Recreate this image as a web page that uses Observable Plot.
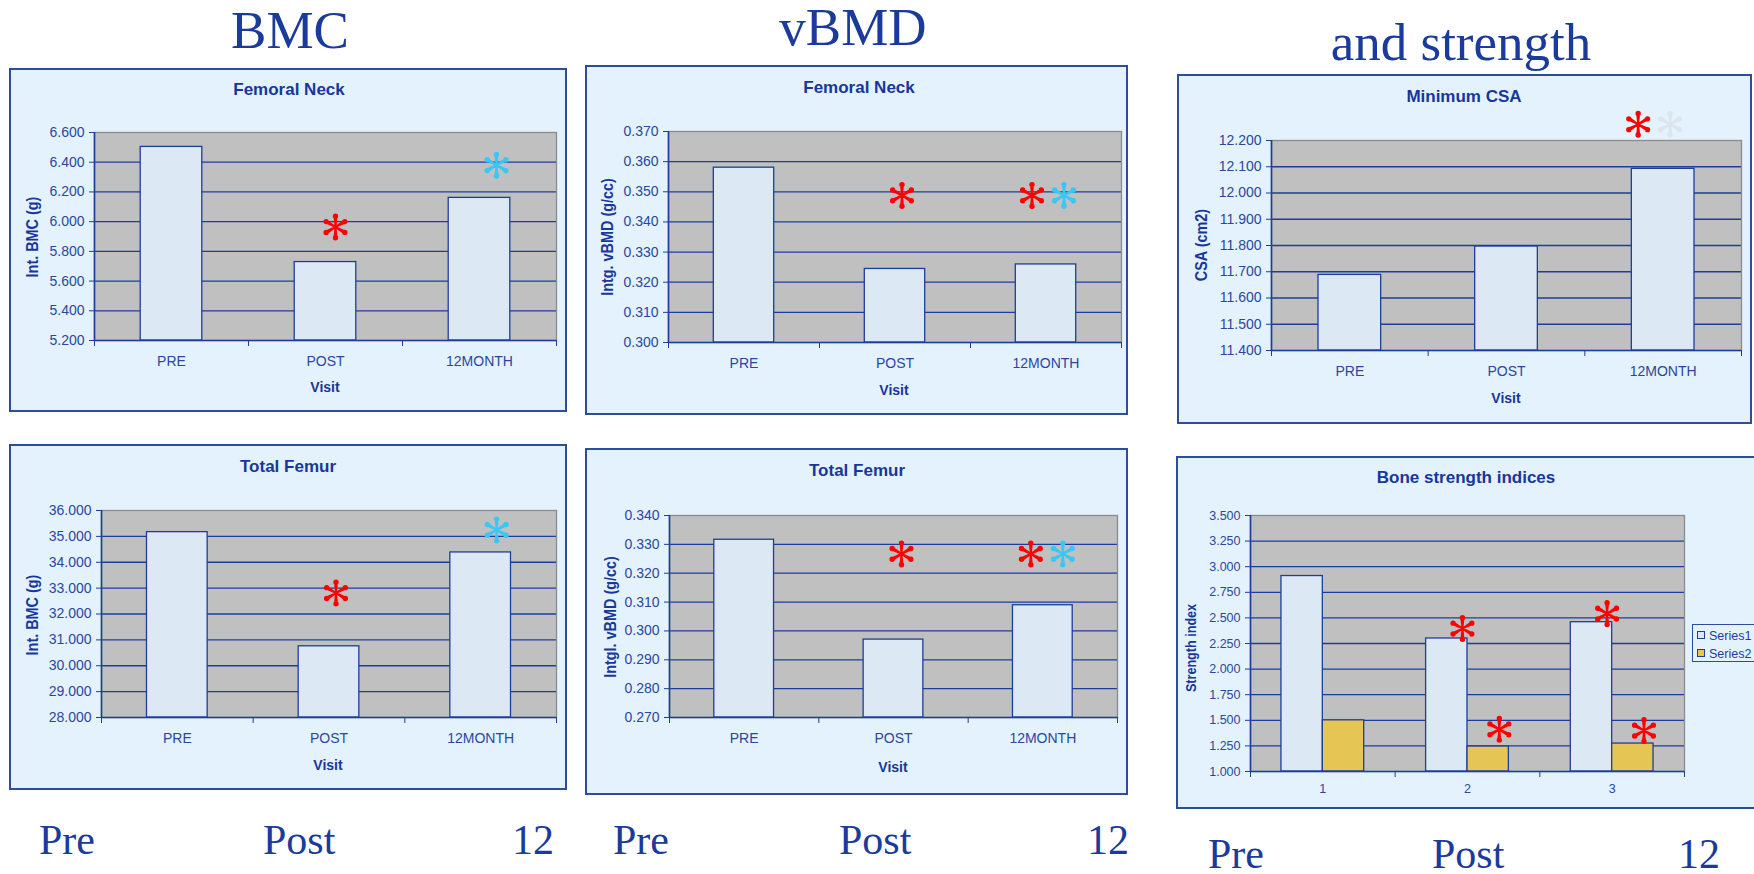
<!DOCTYPE html>
<html><head><meta charset="utf-8">
<script src="https://cdn.jsdelivr.net/npm/d3@7"></script>
<script src="https://cdn.jsdelivr.net/npm/@observablehq/plot@0.6"></script>
<style>
body{margin:0;width:1754px;height:874px;overflow:hidden;background:#fff;position:relative;font-family:"Liberation Sans",Arial,sans-serif}
.big{position:absolute;font-family:"Liberation Serif","Times New Roman",serif;color:#1a3a9c;white-space:nowrap;line-height:1}
.panel{position:absolute;background:#e4f2fd;border:2px solid #2c4d9c;box-sizing:border-box}
.t{position:absolute;color:#17379a;white-space:nowrap;line-height:1;transform:translate(-50%,-50%)}
.ptitle{font-weight:bold;font-size:17px}
.ylab{font-weight:bold;font-size:16px;transform:translate(-50%,-50%) rotate(-90deg) scaleX(0.9)}
.ylab.small{font-size:14px}
.xlab{font-weight:bold;font-size:14px}
.legend{position:absolute;left:1692px;top:624px;width:70px;height:38px;border:1px solid #2c4d9c;background:#e4f2fd;box-sizing:border-box;font-size:12.5px;color:#1d3d9b}
.legend div{position:absolute;left:4px;white-space:nowrap;line-height:1}
.legend span{display:inline-block;width:6px;height:6px;border:1px solid #1d3d9b;margin-right:4px;vertical-align:1px}
svg{position:absolute}
</style>
</head><body>
<script>
// ---------- data ----------
const visits = ["PRE", "POST", "12MONTH"];

const bmcNeck = [6.503, 5.728, 6.160];
const bmcNeckTicks = [5.2, 5.4, 5.6, 5.8, 6.0, 6.2, 6.4, 6.6];
const bmcNeckStars = [{visit: "POST", value: 5.964, sig: "pre"}, {visit: "12MONTH", value: 6.38, sig: "post"}];

const vbmdNeck = [0.3580, 0.3244, 0.3259];
const vbmdNeckTicks = [0.30, 0.31, 0.32, 0.33, 0.34, 0.35, 0.36, 0.37];
const vbmdNeckStars = [{visit: "POST", value: 0.3488, sig: "pre"}, {visit: "12MONTH", value: 0.3488, sig: "pre"}, {visit: "12MONTH", value: 0.3488, sig: "post"}];

const csa = [11.688, 11.796, 12.092];
const csaTicks = [11.4, 11.5, 11.6, 11.7, 11.8, 11.9, 12.0, 12.1, 12.2];
const csaStars = [{visit: "12MONTH", value: 12.262, sig: "pre"}, {visit: "12MONTH", value: 12.262, sig: "ns"}];

const bmcTotal = [35.164, 30.752, 34.379];
const bmcTotalTicks = [28, 29, 30, 31, 32, 33, 34, 35, 36];
const bmcTotalStars = [{visit: "POST", value: 32.81, sig: "pre"}, {visit: "12MONTH", value: 35.25, sig: "post"}];

const vbmdTotal = [0.3316, 0.2970, 0.3089];
const vbmdTotalTicks = [0.27, 0.28, 0.29, 0.30, 0.31, 0.32, 0.33, 0.34];
const vbmdTotalStars = [{visit: "POST", value: 0.3267, sig: "pre"}, {visit: "12MONTH", value: 0.3267, sig: "pre"}, {visit: "12MONTH", value: 0.3267, sig: "post"}];

const strengthCats = ["1", "2", "3"];
const strengthSeries = ["Series1", "Series2"];
const strengthSeries1 = [2.909, 2.299, 2.458];
const strengthSeries2 = [1.500, 1.244, 1.273];
const strengthTicks = [1.0, 1.25, 1.5, 1.75, 2.0, 2.25, 2.5, 2.75, 3.0, 3.25, 3.5];
const strengthStars = [{cat: "2", series: "Series1", value: 2.396}, {cat: "3", series: "Series1", value: 2.542}, {cat: "2", series: "Series2", value: 1.412}, {cat: "3", series: "Series2", value: 1.400}];

const headings = ["BMC", "vBMD", "and strength"];
const timeLabels = ["Pre", "Post", "12"];

// ---------- styles ----------
const NAVY = "#1d3d9b", TICK = "#2a479e", LIGHT = "#dce9f5", GOLD = "#e5c553", PLOTBG = "#c0c0c0";
const starColor = {pre: "#ff0000", post: "#3ac7f5", ns: "#dce5ed"};

// teardrop-spoked asterisk symbol (six arms with round ends)
const teardropStar = {
  draw(ctx, size) {
    const R = Math.sqrt(size / Math.PI);
    const b = R * 0.2, w0 = R * 0.07, w1 = R * 0.15, L = R - b;
    for (let k = 0; k < 6; k++) {
      const a = k * Math.PI / 3;
      const ux = Math.sin(a), uy = -Math.cos(a), vx = -uy, vy = ux;
      ctx.moveTo(vx * w0, vy * w0);
      ctx.lineTo(ux * L + vx * w1, uy * L + vy * w1);
      ctx.lineTo(ux * L - vx * w1, uy * L - vy * w1);
      ctx.lineTo(-vx * w0, -vy * w0);
      ctx.closePath();
      ctx.moveTo(ux * L + b, uy * L);
      ctx.arc(ux * L, uy * L, b, 0, 2 * Math.PI, true);
      ctx.closePath();
    }
  }
};

function addText(cls, txt, x, y) {
  const d = document.createElement("div");
  d.className = "t " + cls; d.textContent = txt;
  d.style.left = x + "px"; d.style.top = y + "px";
  document.body.appendChild(d);
}
function addPanel(x, y, w, h) {
  const d = document.createElement("div");
  d.className = "panel";
  Object.assign(d.style, {left: x + "px", top: y + "px", width: w + "px", height: h + "px"});
  document.body.appendChild(d);
}

function chart(cfg) {
  const {f, p, ticks, cats, barMarks, starMarks, fs, xpad} = cfg;
  addPanel(f[0], f[1], f[2], f[3]);
  const y0 = ticks[0], y1 = ticks[ticks.length - 1];
  const svg = Plot.plot({
    width: f[2], height: f[3],
    marginLeft: p[0] - f[0], marginTop: p[1] - f[1],
    marginRight: f[0] + f[2] - p[2], marginBottom: f[1] + f[3] - p[3],
    x: {domain: [-0.5, 2.5]},
    y: {domain: [y0, y1]},
    style: {background: "transparent", overflow: "visible", fontFamily: "Liberation Sans, Arial, sans-serif", color: NAVY},
    marks: [
      Plot.frame({fill: PLOTBG}),
      Plot.gridY(ticks.slice(1, -1), {stroke: NAVY, strokeOpacity: 1, strokeWidth: 1.3}),
      Plot.frame({stroke: "#8c8c8c", strokeWidth: 1.3}),
      ...barMarks(y0),
      Plot.ruleX([-0.5], {stroke: NAVY, strokeWidth: 1.6}),
      Plot.ruleY([y0], {stroke: NAVY, strokeWidth: 1.6}),
      Plot.axisY(ticks, {tickSize: 5, tickPadding: 5, tickFormat: d3.format(".3f"), label: null, stroke: NAVY, fill: TICK, fontSize: fs}),
      Plot.axisX([-0.5, 0.5, 1.5, 2.5], {tickSize: 6, tickFormat: () => "", label: null, stroke: NAVY}),
      Plot.axisX([0, 1, 2], {tickSize: 0, tickPadding: xpad, tickFormat: i => cats[i], label: null, fill: TICK, fontSize: fs}),
      ...starMarks
    ]
  });
  svg.style.left = f[0] + "px"; svg.style.top = f[1] + "px";
  document.body.appendChild(svg);
}

function singleBars(values) {
  return y0 => [Plot.rect(values, {x1: (d, i) => i - 0.2, x2: (d, i) => i + 0.2, y1: () => y0, y2: d => d, fill: LIGHT, stroke: NAVY, strokeWidth: 1.3})];
}
function stars(list, dxs) {
  return list.map((s, k) => Plot.dot([s], {x: d => visits.indexOf(d.visit), y: "value", symbol: teardropStar, r: 13.5,
    fill: starColor[s.sig], stroke: "none", dx: dxs[k]}));
}

// headings
const bigPos = [[290, 4], [853, 1], [1461, 16]];
headings.forEach((h, i) => {
  const d = document.createElement("div"); d.className = "big"; d.textContent = h;
  Object.assign(d.style, {left: bigPos[i][0] + "px", top: bigPos[i][1] + "px", fontSize: "53px", transform: "translateX(-50%)"});
  document.body.appendChild(d);
});
// bottom labels
const rows = [[[39, 263, 512], 819], [[613, 839, 1087], 819], [[1208, 1432, 1678], 833]];
rows.forEach(([xs, top]) => xs.forEach((x, i) => {
  const d = document.createElement("div"); d.className = "big"; d.textContent = timeLabels[i];
  Object.assign(d.style, {left: x + "px", top: top + "px", fontSize: "42px"});
  document.body.appendChild(d);
}));

// Panel 1: BMC femoral neck
chart({f: [9, 68, 558, 344], p: [94, 132, 556, 340], ticks: bmcNeckTicks, cats: visits, fs: 14, xpad: 16,
  barMarks: singleBars(bmcNeck), starMarks: stars(bmcNeckStars, [10, 17])});
addText("ptitle", "Femoral Neck", 289, 89);
addText("ylab", "Int. BMC (g)", 33, 237);
addText("xlab", "Visit", 325, 387);

// Panel 2: vBMD femoral neck
chart({f: [585, 65, 543, 350], p: [668, 131, 1121, 342], ticks: vbmdNeckTicks, cats: visits, fs: 14, xpad: 16,
  barMarks: singleBars(vbmdNeck), starMarks: stars(vbmdNeckStars, [7, -14, 18])});
addText("ptitle", "Femoral Neck", 859, 87);
addText("ylab", "Intg. vBMD (g/cc)", 608, 237);
addText("xlab", "Visit", 894, 390);

// Panel 3: Minimum CSA
chart({f: [1177, 74, 575, 350], p: [1271, 140, 1741, 350], ticks: csaTicks, cats: visits, fs: 14, xpad: 16,
  barMarks: singleBars(csa), starMarks: stars(csaStars, [-25, 7])});
addText("ptitle", "Minimum CSA", 1464, 96);
addText("ylab", "CSA (cm2)", 1202, 245);
addText("xlab", "Visit", 1506, 398);

// Panel 4: BMC total femur
chart({f: [9, 444, 558, 346], p: [101, 510, 556, 717], ticks: bmcTotalTicks, cats: visits, fs: 14, xpad: 16,
  barMarks: singleBars(bmcTotal), starMarks: stars(bmcTotalStars, [7, 16])});
addText("ptitle", "Total Femur", 288, 466);
addText("ylab", "Int. BMC (g)", 33, 615);
addText("xlab", "Visit", 328, 765);

// Panel 5: vBMD total femur
chart({f: [585, 448, 543, 347], p: [669, 515, 1117, 717], ticks: vbmdTotalTicks, cats: visits, fs: 14, xpad: 16,
  barMarks: singleBars(vbmdTotal), starMarks: stars(vbmdTotalStars, [8, -12, 20])});
addText("ptitle", "Total Femur", 857, 470);
addText("ylab", "Intgl. vBMD (g/cc)", 611, 617);
addText("xlab", "Visit", 893, 767);

// Panel 6: bone strength indices
const sVals = [strengthSeries1, strengthSeries2];
const sFill = [LIGHT, GOLD];
const W6 = 0.286;
chart({f: [1176, 456, 580, 353], p: [1250, 515, 1684, 771], ticks: strengthTicks, cats: strengthCats, fs: 12.5, xpad: 13,
  barMarks: y0 => sVals.map((vals, s) => Plot.rect(vals, {x1: (d, i) => i - W6 + s * W6, x2: (d, i) => i + s * W6,
    y1: () => y0, y2: d => d, fill: sFill[s], stroke: NAVY, strokeWidth: 1.3})),
  starMarks: strengthStars.map(s => Plot.dot([s], {x: d => strengthCats.indexOf(d.cat) + (d.series === "Series1" ? -0.035 : 0.22),
    y: "value", symbol: teardropStar, r: 13.5, fill: starColor.pre, stroke: "none"}))});
addText("ptitle", "Bone strength indices", 1466, 477);
addText("ylab small", "Strength index", 1191, 648);

const lg = document.createElement("div"); lg.className = "legend";
strengthSeries.forEach((s, i) => {
  const it = document.createElement("div");
  it.style.top = (5 + i * 18) + "px";
  it.innerHTML = `<span style="background:${sFill[i]}"></span>${s}`;
  lg.appendChild(it);
});
document.body.appendChild(lg);
</script>
</body></html>
